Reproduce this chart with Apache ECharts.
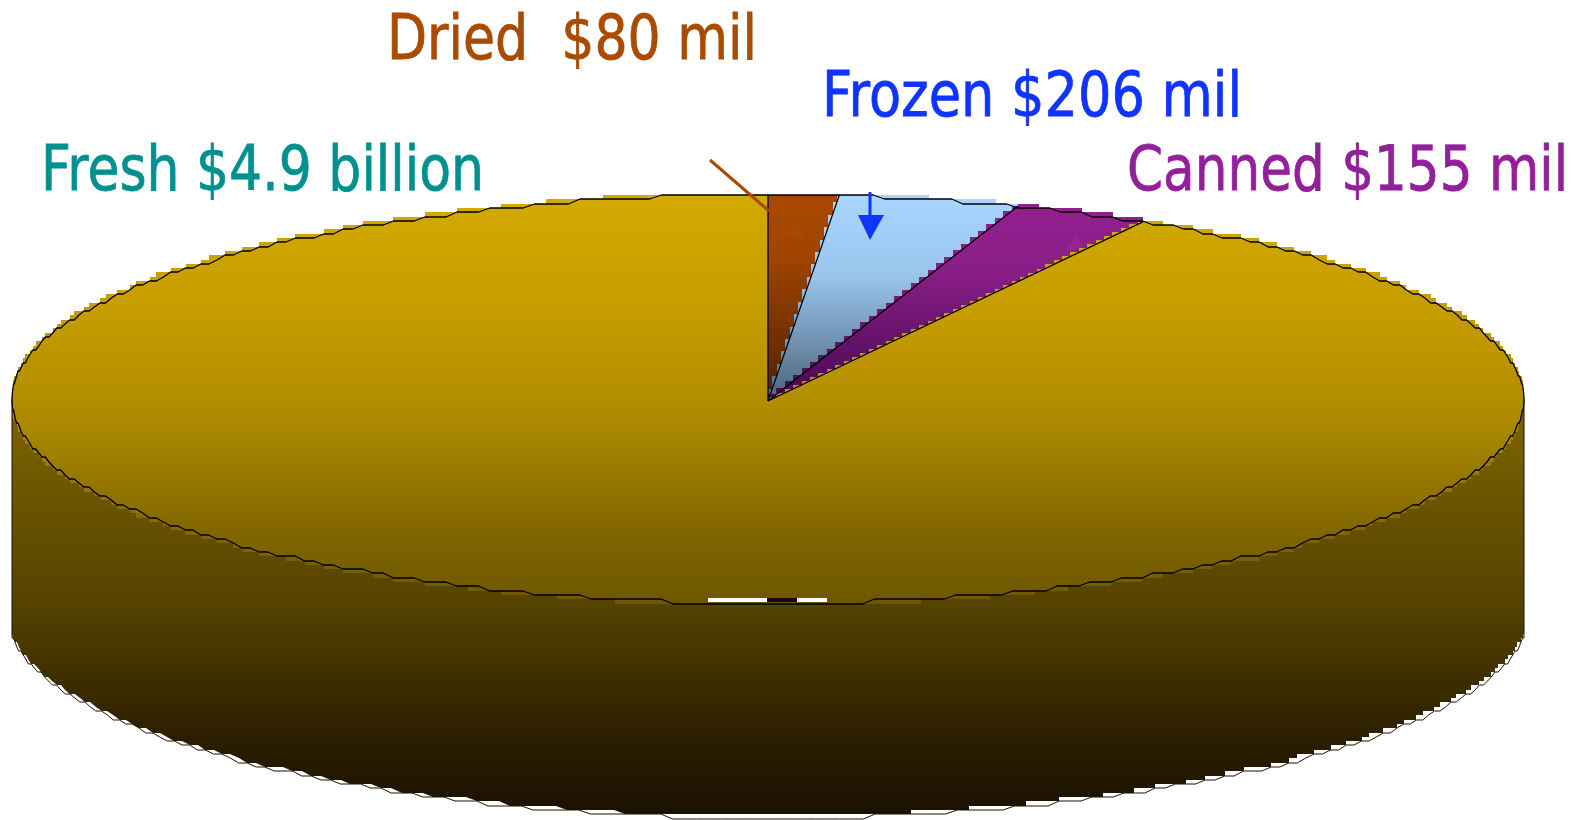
<!DOCTYPE html>
<html><head><meta charset="utf-8">
<style>html,body{margin:0;padding:0;background:#fff}#c{width:1577px;height:820px}</style>
<script src="https://cdn.jsdelivr.net/npm/echarts@6/dist/echarts.min.js"></script>
</head><body><div id="c"></div>
<script>
// Data
const categories = ['Dried', 'Frozen', 'Canned', 'Fresh'];
const values = [80, 206, 155, 4900]; // $ million
const labels = ['Dried  $80 mil', 'Frozen $206 mil', 'Canned $155 mil', 'Fresh $4.9 billion'];

// Geometry and style
const total = values.reduce((a, b) => a + b, 0);
const TAU = Math.PI * 2;
const E = {cx: 768, cy: 399, rx: 756, ry: 204, ax: 768, ay: 401, depth: 215, cell: 4.3, y0: 195, N: 400};
const grad = (y, y2, stops) => ({type: 'linear', x: 0, y, x2: 0, y2, global: true,
  colorStops: stops.map(s => ({offset: s[0], color: s[1]}))});
const fills = [
  grad(195, 401, [[0, '#aa4800'], [.3, '#a04400'], [1, '#4f2100']]),
  grad(195, 401, [[0, '#a8d6ff'], [.4, '#98c4ec'], [1, '#4c6379']]),
  grad(195, 401, [[0, '#93208f'], [.35, '#8a1e88'], [1, '#48094f']]),
  grad(195, 603, [[0, '#d4a900'], [.3, '#c59c00'], [.55, '#ad8a00'], [.85, '#7d6300'], [1, '#6e5700']])
];
const wallFill = grad(400, 818, [[0, '#7f6500'], [.5, '#544200'], [.8, '#2c1f00'], [1, '#1a1000']]);
const textColors = ['#a94b00', '#1033ff', '#92209a', '#00918f'];
// left, top, width of each label
const textPos = [[387, 11, 370], [822, 68, 420], [1127, 142, 441], [41, 142, 443]];

const rimPt = t => [E.cx + E.rx * Math.sin(t), E.cy - E.ry * Math.cos(t)];
const snap = (v, f) => Math.round(f((v - E.y0) / E.cell) * E.cell + E.y0);
function samples(a0, a1) {
  const step = TAU / E.N;
  const n = Math.max(1, Math.ceil((a1 - a0) / step)), out = [];
  for (let i = 0; i <= n; i++) out.push(a0 + (a1 - a0) * i / n);
  return out;
}
// stepped radial fill edge, apex -> rim: teeth lie left of the true divider
function stairEdge(t) {
  const r = rimPt(t);
  if (Math.abs(Math.sin(t)) < 1e-6) return [[E.ax, E.ay], [E.ax, r[1]]];
  const W = r[0] - E.ax, H = E.ay - r[1];
  const dx = W / H < 0.5 ? 4.3 : 8.4;
  const pts = [[E.ax, E.ay]];
  for (let x = 0; x < W; x += dx) {
    const xn = Math.min(x + dx, W);
    const yn = Math.round(E.ay - H * xn / W);
    pts.push([Math.round(E.ax + x), yn], [Math.round(E.ax + xn), yn]);
  }
  return pts;
}
// stepped fill rim that lies just outside the outline
function stairRim(a0, a1) {
  const out = [];
  let prev = null;
  samples(a0, a1).forEach(t => {
    const p = rimPt(t);
    const top = Math.cos(t) > 0;
    const q = [Math.round(p[0]), snap(p[1], top ? Math.floor : Math.ceil)];
    if (prev) {
      const outward = top ? q[1] < prev[1] : q[1] > prev[1];
      out.push(outward ? [prev[0], q[1]] : [q[0], prev[1]]);
    }
    out.push(q);
    prev = q;
  });
  return out;
}
function roughRim(a0, a1) {
  return samples(a0, a1).map(t => {
    const p = rimPt(t);
    return [p[0], snap(p[1], Math.round)];
  });
}
const angles = [];
values.reduce((c, v) => { angles.push([c / total * TAU, (c + v) / total * TAU]); return c + v; }, 0);

function renderFace(params, api) {
  const i = params.dataIndex;
  const a0 = api.value(1) / total * TAU, a1 = api.value(2) / total * TAU;
  const points = stairEdge(a0).concat(stairRim(a0, a1), stairEdge(a1).reverse());
  return {type: 'polygon', shape: {points}, style: {fill: fills[i]}};
}
function renderWall(params, api) {
  const a0 = Math.PI / 2, a1 = Math.PI * 1.5;
  const clampX = x => Math.max(12, Math.min(1524, x));
  const pts = samples(a0, a1).map(t => {
    const p = rimPt(t);
    return [clampX(E.cx + (p[0] - E.cx) * 1.006), p[1] + E.depth];
  });
  const line = pts.map(p => [p[0], snap(p[1], Math.round)]);
  const fillEdge = [];
  pts.forEach((p, k) => {
    const q = [Math.round(p[0]), snap(p[1], Math.floor)];
    if (k) fillEdge.push([q[0], Math.min(q[1], snap(pts[k - 1][1], Math.floor))]);
    fillEdge.push(q);
  });
  return {type: 'group', children: [
    {type: 'polygon', shape: {points: [[1524, E.cy]].concat(fillEdge, [[12, E.cy]])}, style: {fill: wallFill}},
    {type: 'polyline', shape: {points: [[1524, E.cy]].concat(line, [[12, E.cy]])},
      style: {fill: 'none', stroke: '#1a1204', lineWidth: 1}}
  ]};
}
function renderOutline(params, api) {
  const a0 = api.value(1) / total * TAU, a1 = api.value(2) / total * TAU;
  const pts = [[E.ax, E.ay], rimPt(a0)].concat(roughRim(a0, a1));
  return {type: 'polyline', shape: {points: pts},
    style: {fill: 'none', stroke: '#000', lineWidth: 1.3, lineJoin: 'round'}};
}
const data = values.map((v, i) => ({name: categories[i], value: [v, angles[i][0] / TAU * total, angles[i][1] / TAU * total]}));

const measure = document.createElement('canvas').getContext('2d');
measure.font = '63px "DejaVu Sans"';
const txt = labels.map((s, i) => ({
  type: 'text', z: 20, x: textPos[i][0], y: textPos[i][1],
  scaleX: textPos[i][2] / measure.measureText(s).width,
  style: {text: s, fill: textColors[i], stroke: textColors[i], lineWidth: 0.8, font: '63px "DejaVu Sans"'}
}));

const chart = echarts.init(document.getElementById('c'), null, {renderer: 'canvas'});
chart.setOption({
  animation: false,
  backgroundColor: '#fff',
  series: [
    {type: 'custom', coordinateSystem: 'none', silent: true, z: 2, data: [data[3]], renderItem: renderWall},
    {type: 'custom', coordinateSystem: 'none', silent: true, z: 3, data, renderItem: renderFace},
    {type: 'custom', coordinateSystem: 'none', silent: true, z: 4, data, renderItem: renderOutline}
  ],
  graphic: {elements: [
    {type: 'rect', z: 10, shape: {x: 708, y: 598, width: 119, height: 4}, style: {fill: '#fff'}},
    {type: 'rect', z: 11, shape: {x: 767, y: 598, width: 30, height: 4}, style: {fill: '#170514'}},
    {type: 'polygon', z: 10, shape: {points: [[780, 235], [807, 240], [797, 220]]}, style: {fill: '#a64903'}},
    {type: 'polygon', z: 10, shape: {points: [[1063, 253], [1083, 247], [1077, 233]]}, style: {fill: '#932692'}},
    {type: 'line', z: 12, shape: {x1: 710, y1: 160, x2: 769, y2: 211}, style: {stroke: '#aa4a00', lineWidth: 3}},
    {type: 'line', z: 12, shape: {x1: 870, y1: 192, x2: 870, y2: 216}, style: {stroke: '#0f35ff', lineWidth: 3}},
    {type: 'polygon', z: 12, shape: {points: [[858, 215], [884, 215], [870, 240]]}, style: {fill: '#0f35ff'}}
  ].concat(txt)}
});
</script></body></html>
